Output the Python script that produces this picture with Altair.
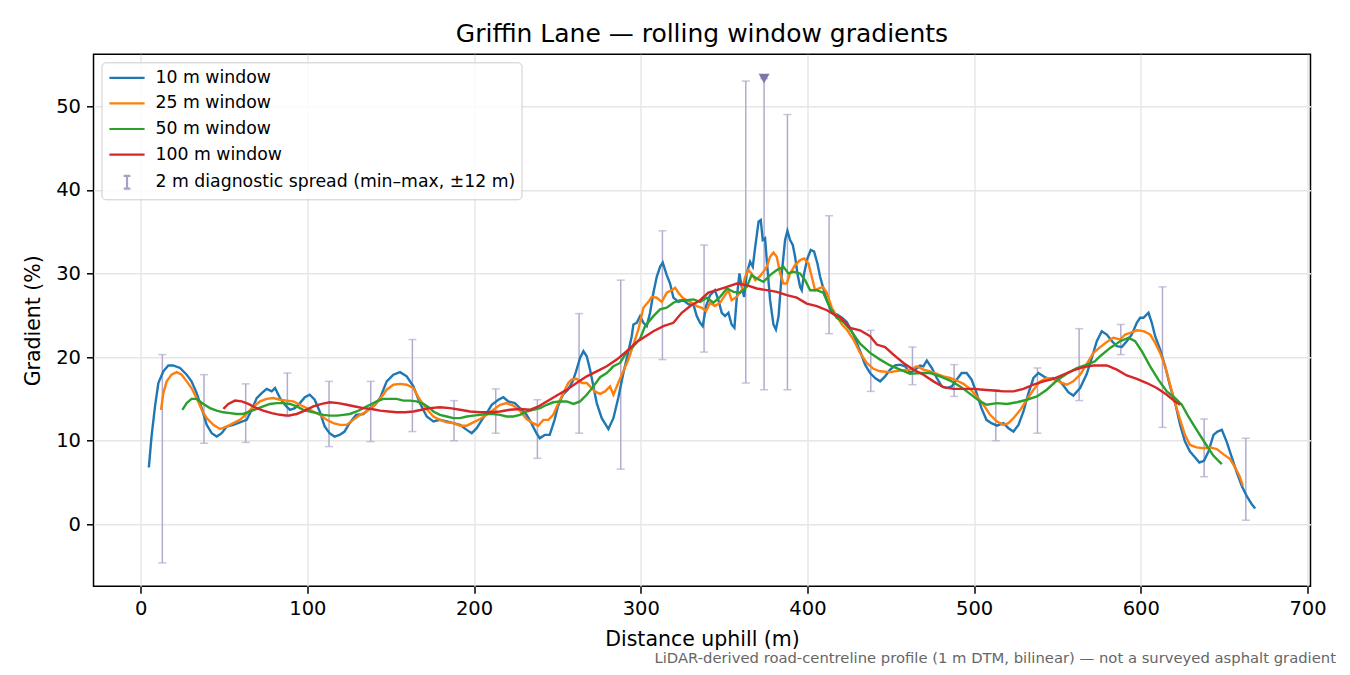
import altair as alt
import pandas as pd

# distance uphill (m) / gradient (%)
w10_x = [4.9, 6.5, 8.6, 10.6, 13.6, 16.6, 19.5, 23.6, 27.6, 30.5, 33.6, 36.6, 39.6, 42.6, 45.6, 48.6,
         51.6, 55.6, 59.5, 63.6, 66.6, 69.6, 72.6, 75.6, 78.6, 80.6, 83.6, 86.5, 89.5, 92.5, 95.5, 98.5,
         101.4, 104.4, 107.4, 110.4, 113.3, 116.3, 119.3, 122.3, 125.3, 129.2, 133.6, 137.6, 140.6, 143.6,
         147.6, 151.6, 155.6, 159.6, 163.6, 167.5, 171.6, 175.6, 179.5, 183.6, 187.6, 191.6, 195.6, 198.6,
         201.6, 204.7, 207.6, 210.6, 214.6, 217.6, 220.5, 224.5, 227.5, 231.5, 234.4, 237.4, 239.4, 242.4,
         245.4, 248.3, 250.3, 253.3, 256.3, 259.2, 261.2, 263.6, 265.6, 267.6, 269.6, 271.6, 273.6, 276.6,
         280.6, 283.6, 286.5, 289.5, 292.6, 294.6, 295.6, 297.6, 299.6, 301.6, 303.6, 305.6, 307.6, 309.6,
         311.6, 313.2, 315.6, 317.6, 319.6, 322.6, 325.6, 328.7, 331.6, 333.6, 335.6, 337.2, 339.2, 341.6,
         344.5, 346.6, 348.6, 350.6, 352.6, 354.5, 356.2, 357.5, 359.2, 360.6, 362.0, 363.6, 365.6, 367.2,
         368.7, 370.7, 372.0, 373.2, 374.6, 375.6, 377.6, 379.6, 381.1, 382.7, 384.6, 386.6, 388.0, 389.6,
         391.2, 392.6, 394.0, 395.6, 396.6, 398.0, 400.0, 402.0, 404.0, 406.0, 407.6, 409.3, 411.6, 414.6,
         417.6, 420.7, 423.6, 427.6, 431.6, 434.6, 437.6, 440.6, 443.6, 446.6, 449.6, 452.6, 455.6, 458.6,
         461.6, 464.6, 467.6, 469.6, 471.6, 474.6, 477.6, 480.6, 483.6, 486.6, 489.5, 492.5, 495.5, 498.5,
         501.5, 504.4, 507.4, 510.4, 513.7, 517.6, 520.6, 523.6, 526.6, 529.6, 532.6, 535.6, 538.6, 541.6,
         544.5, 547.5, 550.6, 553.6, 556.5, 559.5, 563.6, 567.6, 570.6, 573.6, 576.6, 579.6, 582.7, 585.6,
         588.6, 591.6, 594.6, 597.6, 599.6, 601.6, 604.6, 606.6, 608.6, 611.6, 614.6, 617.6, 620.6, 623.6,
         626.5, 629.5, 632.6, 635.1, 637.9, 640.6, 643.6, 646.0, 648.6, 651.5, 654.6, 657.6, 660.6, 663.5,
         666.6, 668.6]
w10_y = [6.8, 10.5, 14.1, 16.9, 18.3, 19.0, 19.0, 18.7, 17.9, 17.1, 15.7, 13.9, 11.9, 10.9, 10.5, 10.9,
         11.7, 11.9, 12.2, 12.5, 13.7, 15.1, 15.7, 16.2, 15.9, 16.3, 15.1, 14.3, 13.7, 13.9, 14.5, 15.2,
         15.5, 14.9, 13.5, 11.7, 10.9, 10.5, 10.7, 11.1, 12.1, 13.1, 13.2, 13.9, 14.3, 15.1,
         17.1, 17.9, 18.2, 17.7, 16.5, 14.5, 12.9, 12.3, 12.5, 12.3, 12.1, 11.9, 11.3, 10.9,
         11.5, 12.5, 13.3, 14.3, 14.9, 15.2, 14.7, 14.5, 13.9, 13.1, 12.1, 10.9, 10.3, 10.7,
         10.7, 12.5, 14.1, 15.5, 16.1, 17.1, 18.3, 19.9, 20.7, 20.1, 18.5, 16.5, 14.5, 12.7,
         11.4, 12.7, 15.1, 18.0, 20.7, 22.5, 23.9, 24.1, 24.9, 24.1, 23.7, 25.3, 27.7, 29.6,
         30.8, 31.3, 29.8, 28.8, 27.1, 26.6, 26.8, 26.3, 26.3, 24.9, 24.1, 23.7, 26.1, 27.4,
         28.0, 26.8, 25.3, 24.9, 25.3, 23.9, 23.5, 26.8, 30.0, 28.4, 27.2, 30.0, 31.4, 30.8,
         33.2, 36.2, 36.4, 34.0, 34.2, 31.6, 26.8, 23.9, 23.3, 24.9, 30.0, 34.0, 35.1, 34.0,
         33.4, 32.0, 30.0, 28.4, 28.0, 30.0, 31.8, 32.8, 32.6, 31.2, 29.6, 28.4, 26.8, 25.3,
         25.1, 24.7, 24.2, 22.7, 20.7, 19.1, 18.1, 17.5, 17.1, 17.7, 18.5, 19.0, 19.1, 18.9,
         18.1, 18.5, 19.0, 18.9, 19.6, 18.7, 17.5, 16.5, 16.3, 16.5, 17.3, 18.1, 18.1, 17.3,
         15.7, 13.9, 12.5, 12.1, 11.8, 12.1, 11.5, 11.1, 11.9, 13.5, 15.7, 17.5, 18.1, 17.7,
         17.4, 17.5, 17.3, 16.6, 15.8, 15.4, 16.3, 18.0, 19.9, 21.9, 23.1, 22.7, 21.9, 21.3,
         21.2, 21.9, 22.7, 24.1, 24.7, 24.7, 25.3, 24.1, 22.5, 20.9, 18.9, 16.5, 14.5, 11.9,
         9.9, 8.7, 8.0, 7.4, 7.6, 8.7, 10.7, 11.1, 11.3, 9.9, 8.0, 6.2, 4.6, 3.4,
         2.4, 1.9]

w25_x = [12.2, 13.6, 15.6, 18.5, 21.6, 24.6, 27.6, 30.5, 33.6, 36.6, 39.6, 43.6, 47.6, 51.6, 55.6, 59.5,
         63.6, 67.6, 71.6, 75.6, 79.6, 83.6, 87.5, 91.5, 95.5, 99.6, 103.6, 107.6, 111.6, 115.6, 119.6,
         123.6, 127.5, 131.6, 135.6, 139.5, 143.6, 147.6, 151.6, 155.6, 159.6, 163.6, 167.5, 171.6, 175.6,
         179.5, 183.6, 187.6, 191.6, 195.6, 199.6, 203.6, 207.6, 211.6, 215.6, 219.5, 223.5, 227.5, 231.5,
         235.4, 238.4, 241.6, 244.6, 247.5, 250.6, 253.6, 256.5, 258.5, 261.5, 264.6, 267.6, 269.6, 272.5,
         275.6, 278.6, 281.6, 283.6, 286.5, 289.5, 292.6, 295.6, 298.6, 301.6, 304.6, 306.6, 309.6, 312.6,
         315.6, 318.6, 320.6, 322.6, 325.2, 327.6, 330.6, 333.6, 336.6, 339.2, 341.6, 344.5, 347.6, 350.6,
         352.6, 354.5, 357.5, 360.6, 362.6, 364.6, 366.5, 368.7, 371.2, 373.6, 375.6, 377.6, 379.6, 381.6,
         383.6, 385.6, 387.6, 389.6, 392.6, 395.6, 398.0, 400.6, 402.6, 404.6, 406.6, 409.3, 411.6, 414.6,
         417.6, 420.7, 423.6, 427.6, 431.6, 435.6, 439.6, 443.6, 449.6, 455.6, 461.6, 465.6, 469.6, 473.6,
         477.6, 481.6, 485.6, 489.5, 493.6, 497.6, 501.6, 505.6, 509.6, 513.7, 517.6, 520.6, 523.6, 527.7,
         531.6, 535.6, 539.6, 543.6, 547.6, 551.6, 555.6, 559.5, 563.6, 567.6, 571.5, 575.6, 579.6, 583.5,
         587.6, 590.6, 593.6, 597.6, 601.6, 605.6, 608.6, 611.6, 614.6, 617.6, 620.6, 623.6, 626.5, 629.5,
         633.5, 637.6, 641.5, 645.6, 649.5, 653.6, 656.6, 659.2, 661.3]
w25_y = [13.7, 15.7, 17.1, 17.9, 18.2, 17.9, 17.1, 16.3, 15.1, 13.7, 12.7, 11.9, 11.4, 11.7, 12.1, 12.5,
         13.2, 14.1, 14.7, 15.0, 15.1, 14.9, 14.8, 14.7, 14.3, 13.9, 13.5, 13.1, 12.5, 12.1, 11.9,
         11.9, 12.5, 13.1, 13.5, 14.1, 15.0, 16.1, 16.7, 16.8, 16.7, 16.3, 14.9, 13.8, 12.9,
         12.5, 12.2, 12.1, 11.8, 11.8, 12.2, 12.6, 13.1, 13.7, 14.3, 14.5, 14.2, 13.6, 12.6,
         12.1, 11.8, 12.5, 12.5, 13.1, 14.5, 15.7, 16.9, 17.3, 17.4, 16.9, 16.9, 16.5, 15.9,
         15.6, 15.9, 16.5, 15.5, 16.9, 18.3, 19.7, 21.5, 23.3, 25.9, 26.6, 27.2, 27.1, 26.6,
         27.7, 28.0, 28.3, 27.7, 27.1, 26.8, 26.5, 26.1, 25.9, 25.5, 26.5, 26.1, 26.5, 27.4,
         28.0, 26.8, 27.2, 28.0, 29.6, 30.4, 30.0, 29.2, 29.6, 30.2, 30.8, 32.0, 32.5, 32.0,
         30.0, 28.8, 28.8, 30.0, 31.0, 31.6, 31.8, 31.2, 29.6, 28.0, 28.2, 28.4, 27.7, 25.9,
         24.9, 23.9, 23.3, 22.1, 20.5, 19.3, 18.6, 18.3, 18.2, 18.4, 18.5, 18.9, 18.5, 18.3,
         18.0, 17.7, 17.5, 17.2, 16.8, 16.2, 15.3, 14.3, 13.1, 12.3, 11.9, 12.1, 12.7, 13.7,
         14.9, 16.1, 17.1, 17.5, 17.4, 17.0, 16.7, 17.1, 17.9, 19.2, 20.5, 21.2, 21.8, 22.3,
         22.1, 22.7, 22.9, 23.2, 23.1, 22.7, 21.7, 20.5, 18.9, 16.7, 14.5, 12.5, 10.7, 9.5,
         9.2, 9.1, 9.2, 9.0, 8.4, 7.8, 6.8, 5.8, 4.6]

w50_x = [25.0, 27.6, 30.5, 33.6, 37.6, 41.6, 45.6, 49.6, 53.6, 57.6, 61.5, 65.6, 69.6, 73.5, 77.6, 81.6,
         85.5, 89.5, 93.6, 97.6, 101.6, 105.6, 109.6, 113.5, 117.6, 121.6, 125.5, 129.6, 133.6, 137.6,
         141.6, 145.6, 149.6, 153.6, 157.6, 161.6, 165.5, 169.6, 173.6, 175.6, 179.5, 183.6, 187.6, 191.6,
         195.6, 199.6, 203.6, 207.6, 211.6, 215.6, 219.5, 223.5, 227.5, 231.5, 235.4, 239.6, 243.6, 247.5,
         251.6, 255.6, 259.6, 263.6, 267.6, 271.6, 275.6, 279.6, 283.6, 287.6, 291.6, 295.6, 299.6, 302.6,
         307.6, 311.6, 315.6, 319.6, 323.6, 327.6, 331.6, 335.6, 339.7, 343.6, 347.6, 351.7, 355.6, 359.6,
         363.6, 366.5, 369.6, 373.6, 377.6, 381.6, 385.6, 388.6, 391.5, 395.6, 398.6, 401.6, 405.6, 409.5,
         413.6, 417.6, 421.6, 425.6, 431.6, 437.6, 443.6, 449.6, 455.6, 461.6, 467.6, 473.6, 479.6, 485.6,
         491.6, 497.6, 503.6, 507.6, 513.7, 519.6, 525.7, 531.6, 537.7, 543.6, 549.6, 555.6, 561.6, 567.6,
         572.5, 575.6, 581.6, 587.6, 592.6, 596.6, 600.6, 605.6, 610.5, 615.6, 620.6, 624.6, 628.5, 633.5,
         638.6, 643.6, 648.6]
w50_y = [13.7, 14.5, 15.0, 15.0, 14.4, 13.9, 13.6, 13.4, 13.3, 13.2, 13.2, 13.5, 13.8, 14.1, 14.4, 14.5,
         14.5, 14.4, 14.1, 13.7, 13.5, 13.3, 13.1, 13.0, 13.0, 13.1, 13.2, 13.5, 13.9, 14.3,
         14.7, 15.0, 15.0, 15.0, 14.8, 14.8, 14.7, 14.4, 13.9, 13.5, 13.1, 12.9, 12.7, 12.7,
         12.9, 13.0, 13.1, 13.2, 13.2, 13.1, 12.9, 12.9, 13.1, 13.5, 13.7, 13.9, 14.3, 14.6,
         14.7, 14.7, 14.4, 14.7, 15.5, 16.5, 17.6, 18.1, 18.9, 19.3, 20.6, 21.3, 22.2, 23.7,
         24.9, 25.7, 25.9, 26.5, 26.8, 26.8, 26.9, 26.6, 27.1, 26.5, 27.2, 28.2, 27.8, 27.7,
         28.4, 29.8, 29.4, 29.0, 29.8, 30.4, 30.8, 30.0, 30.2, 30.0, 29.2, 28.0, 28.0, 27.7,
         25.9, 24.7, 24.2, 23.3, 21.6, 20.5, 19.7, 19.0, 18.5, 18.0, 18.1, 18.1, 17.7, 17.2,
         16.5, 15.6, 14.7, 14.3, 14.5, 14.4, 14.6, 14.9, 15.3, 16.1, 17.2, 18.0, 18.7, 19.1,
         19.5, 20.1, 21.1, 21.9, 22.3, 21.9, 20.7, 18.9, 17.3, 15.9, 15.1, 14.3, 12.9, 11.3,
         9.7, 8.2, 7.2]

w100_x = [49.6, 52.6, 56.6, 60.6, 64.6, 68.6, 73.5, 78.6, 83.6, 88.5, 93.6, 98.5, 103.6, 108.6, 113.5,
          118.6, 123.6, 128.6, 133.6, 138.6, 143.6, 148.6, 153.6, 158.6, 163.6, 168.6, 173.6, 179.5, 185.6,
          191.6, 197.6, 203.6, 209.6, 215.6, 221.5, 227.5, 233.5, 238.6, 243.6, 249.6, 255.6, 261.5, 267.6,
          273.6, 279.6, 285.6, 291.6, 297.6, 307.6, 313.6, 319.6, 324.6, 329.7, 335.6, 340.6, 345.6, 351.7,
          357.6, 363.6, 369.6, 375.6, 381.6, 387.6, 393.6, 399.6, 405.6, 411.7, 417.6, 419.6, 423.6, 425.6,
          431.6, 437.6, 441.6, 446.6, 451.6, 457.6, 463.6, 469.6, 475.6, 481.6, 487.6, 493.6, 499.6, 505.6,
          511.6, 517.6, 523.6, 529.6, 535.6, 541.6, 547.6, 553.6, 559.5, 565.6, 571.5, 579.6, 585.6, 591.6,
          597.6, 603.6, 609.6, 615.6, 620.6, 623.6]
w100_y = [13.8, 14.4, 14.8, 14.7, 14.4, 14.0, 13.6, 13.3, 13.1, 13.0, 13.2, 13.6, 14.1, 14.4, 14.6,
          14.5, 14.3, 14.1, 13.9, 13.8, 13.6, 13.5, 13.4, 13.4, 13.5, 13.7, 13.9, 14.0, 13.9,
          13.7, 13.5, 13.4, 13.4, 13.5, 13.7, 13.8, 13.7, 14.1, 14.7, 15.4, 16.1, 16.9, 17.7,
          18.3, 18.9, 19.7, 20.7, 21.8, 23.1, 23.7, 24.1, 25.3, 26.1, 26.8, 27.7, 28.0, 28.4,
          28.8, 28.6, 28.2, 28.0, 27.8, 27.4, 27.1, 26.4, 26.1, 25.6, 24.9, 24.8, 23.9, 23.5,
          23.2, 22.5, 21.5, 21.2, 20.3, 19.3, 18.5, 17.9, 17.1, 16.4, 16.2, 16.2, 16.2, 16.1,
          16.0, 15.9, 15.9, 16.2, 16.7, 17.1, 17.4, 17.9, 18.4, 18.8, 19.0, 19.0, 18.5, 17.8,
          17.4, 16.9, 16.3, 15.5, 14.7, 14.3]

# 2 m diagnostic spread, min-max within +-12 m
spread_x = [13, 38, 63, 88, 113, 138, 163, 188, 213, 238, 263, 288, 313, 338, 363, 374, 388,
            413, 438, 463, 488, 513, 538, 563, 588, 613, 638, 663]
spread_lo = [-4.6, 9.7, 9.8, 12.9, 9.3, 9.9, 11.1, 10.0, 10.9, 7.9, 10.9, 6.6, 19.7, 20.6, 16.9, 16.1,
             16.1, 22.8, 15.9, 16.7, 15.3, 10.0, 10.9, 14.8, 20.3, 11.6, 5.7, 0.5]
spread_hi = [20.3, 17.9, 16.8, 18.1, 17.1, 17.1, 22.1, 14.8, 16.2, 14.9, 25.2, 29.2, 35.1, 33.4, 53.0, 53.3,
             49.0, 36.9, 23.2, 21.2, 19.1, 16.1, 18.7, 23.4, 23.9, 28.4, 12.6, 10.3]

peak_x = [374]
peak_y = [53.3]

series_names = ["10 m window", "25 m window", "50 m window", "100 m window",
                "2 m diagnostic spread (min–max, ±12 m)"]
series_colors = ["#1f77b4", "#ff7f0e", "#2ca02c", "#d62728", "#a99fc8"]
spread_color = "#b3abcd"
peak_color = "#8073ac"
footnote = "LiDAR-derived road-centreline profile (1 m DTM, bilinear) — not a surveyed asphalt gradient"

FONT = "DejaVu Sans"

x_scale = alt.Scale(domain=[-28.3, 701.8], nice=False, zero=False)
y_scale = alt.Scale(domain=[-7.4, 56.2], nice=False, zero=False)
color_scale = alt.Scale(domain=series_names, range=series_colors)

x_enc = alt.X("dist:Q", scale=x_scale, title="Distance uphill (m)",
              axis=alt.Axis(values=list(range(0, 701, 100)), titlePadding=12))
y_enc = alt.Y("grad:Q", scale=y_scale, title="Gradient (%)",
              axis=alt.Axis(values=list(range(0, 51, 10)), titlePadding=12))

# error bars (drawn first so the lines sit on top)
spread_df = pd.DataFrame({"dist": spread_x, "lo": spread_lo, "hi": spread_hi})
bars = alt.Chart(spread_df).mark_rule(color=spread_color, strokeWidth=1.5).encode(
    x=x_enc, y=alt.Y("lo:Q", scale=y_scale), y2="hi:Q"
)
cap_lo = alt.Chart(spread_df).mark_tick(color=spread_color, orient="horizontal",
                                        size=8, thickness=1.5).encode(
    x=x_enc, y=alt.Y("lo:Q", scale=y_scale)
)
cap_hi = alt.Chart(spread_df).mark_tick(color=spread_color, orient="horizontal",
                                        size=8, thickness=1.5).encode(
    x=x_enc, y=alt.Y("hi:Q", scale=y_scale)
)

layers = [bars, cap_lo, cap_hi]
for name, col, xs, ys in [(series_names[0], series_colors[0], w10_x, w10_y),
                          (series_names[1], series_colors[1], w25_x, w25_y),
                          (series_names[2], series_colors[2], w50_x, w50_y),
                          (series_names[3], series_colors[3], w100_x, w100_y)]:
    df = pd.DataFrame({"dist": xs, "grad": ys, "series": name})
    layers.append(
        alt.Chart(df).mark_line(strokeWidth=2.4, color=col).encode(x=x_enc, y=y_enc)
    )

peak_df = pd.DataFrame({"dist": peak_x, "grad": peak_y})
layers.append(
    alt.Chart(peak_df).mark_point(shape="triangle-down", filled=True, size=120,
                                  color=peak_color, opacity=1).encode(x=x_enc, y=y_enc)
)

# invisible points that carry the legend (line and error-bar symbols)
line_sym = "M-2.2,0L2.2,0"
bar_sym = "M0,-0.8L0,0.8M-0.42,-0.8L0.42,-0.8M-0.42,0.8L0.42,0.8"
legend_df = pd.DataFrame({"dist": [0] * 5, "grad": [0] * 5, "series": series_names})
layers.append(
    alt.Chart(legend_df).mark_point(filled=False, opacity=0, strokeWidth=2.2).encode(
        x=x_enc, y=y_enc,
        color=alt.Color(
            "series:N", scale=color_scale,
            legend=alt.Legend(
                title=None, orient="top-left", offset=8, padding=6,
                symbolSize=256, symbolOffset=10, symbolOpacity=1, symbolStrokeWidth=2.2,
                labelOffset=19, labelFontSize=17.3, labelFont=FONT, labelColor="black",
                labelLimit=500, rowPadding=7.6,
                strokeColor="#cccccc", fillColor="rgba(255,255,255,0.8)", cornerRadius=4,
            ),
        ),
        shape=alt.Shape("series:N", scale=alt.Scale(domain=series_names,
                                                    range=[line_sym] * 4 + [bar_sym])),
    )
)

layers.append(
    alt.Chart(legend_df.head(1)).mark_text(align="right", baseline="alphabetic", fontSize=14.8,
                                           font=FONT, color="#666666").encode(
        x=alt.value(1242.5), y=alt.value(609.0), text=alt.value(footnote)
    )
)

chart = (
    alt.layer(*layers)
    .properties(
        width=1217, height=532,
        title=alt.Title("Griffin Lane — rolling window gradients", fontSize=25, font=FONT,
                        fontWeight="normal", color="black", offset=7),
        autosize=alt.AutoSizeParams(type="none"),
        padding={"left": 85.5, "top": 46.3, "right": 30, "bottom": 80.6},
    )
    .configure_view(stroke="black", strokeWidth=1.5)
    .configure_axis(
        labelFont=FONT, titleFont=FONT, labelFontSize=19.5, titleFontSize=20.5,
        labelColor="black", titleColor="black", titleFontWeight="normal",
        tickColor="black", tickSize=7, tickWidth=1.5, labelPadding=6,
        domain=False, gridColor="#e6e6e6", gridWidth=1.4,
    )
)

chart.save("out.html", embed_options={"renderer": "svg", "actions": False})
